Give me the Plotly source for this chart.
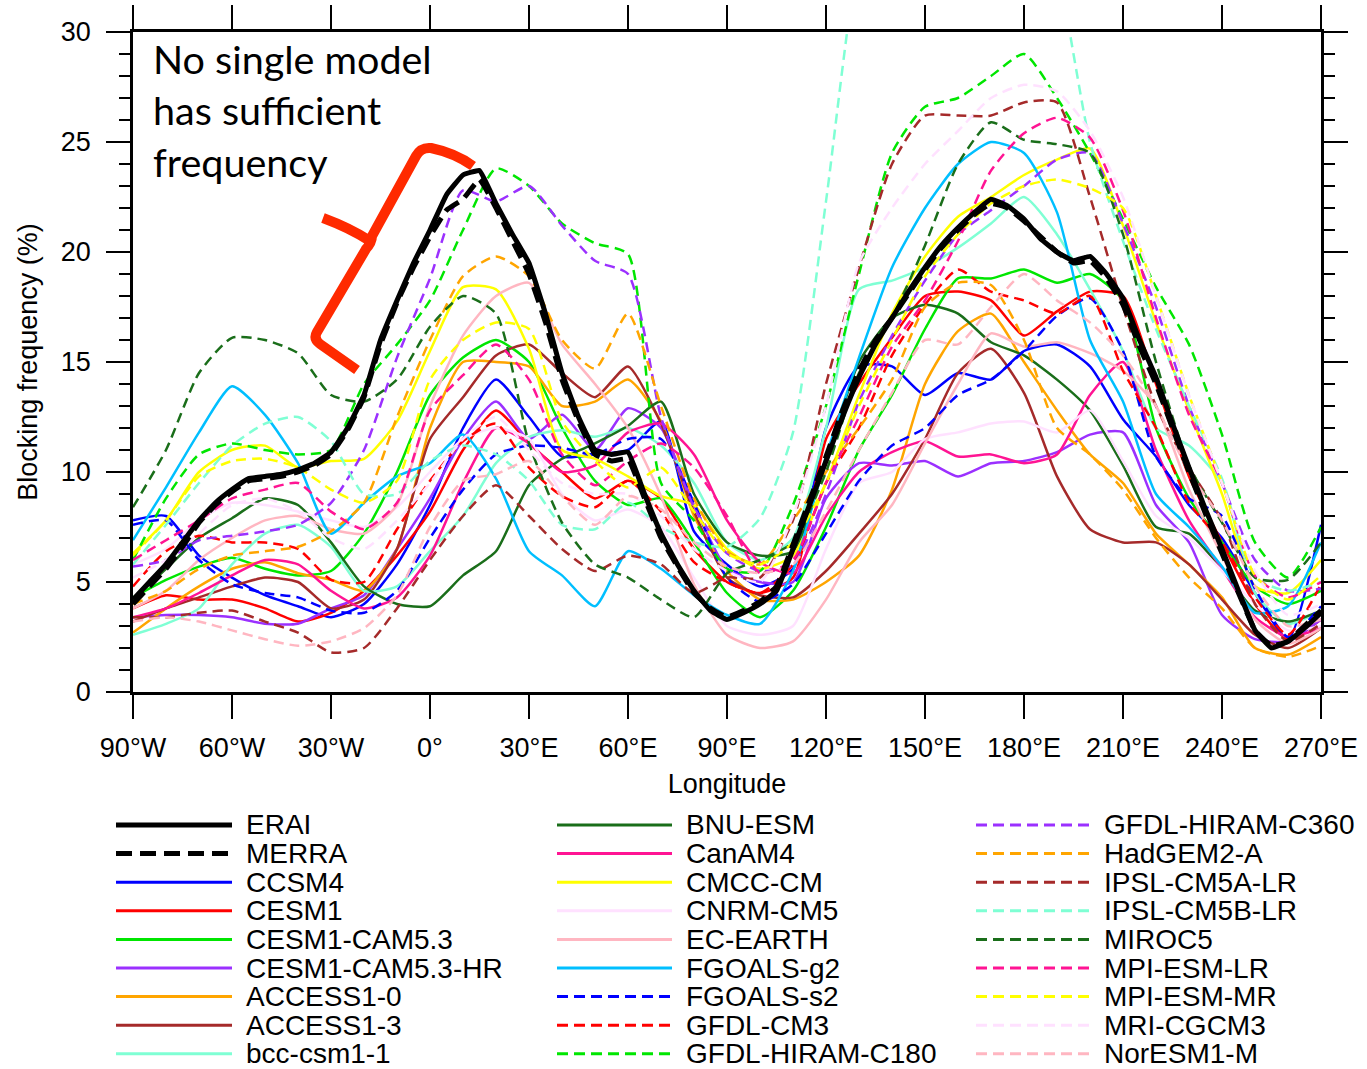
import plotly.graph_objects as go

# ---------------- data ----------------
LON10 = list(range(-90, 271, 10))
LON5 = list(range(-90, 271, 5))
LON_TICKS = list(range(-90, 271, 30))
LON_LABELS = ["90°W", "60°W", "30°W", "0°", "30°E", "60°E", "90°E", "120°E",
              "150°E", "180°E", "210°E", "240°E", "270°E"]

ERAI = [4.2, 5.0, 5.8, 6.8, 7.8, 8.6, 9.2, 9.7, 9.8, 9.9, 10.1, 10.4, 10.9, 12.0, 13.5,
        16.0, 17.8, 19.5, 21.0, 22.6, 23.5, 23.7, 22.2, 20.8, 19.5, 17.2, 14.5, 12.5,
        11.0, 10.8, 10.9, 9.0, 7.2, 5.8, 4.6, 3.7, 3.3, 3.6, 4.0, 4.6, 6.5, 8.5, 10.5,
        12.5, 14.3, 15.8, 17.0, 18.2, 19.3, 20.3, 21.1, 21.8, 22.4, 22.1, 21.5, 20.6,
        20.0, 19.6, 19.8, 19.0, 17.9, 16.0, 14.3, 12.2, 10.2, 8.3, 6.5, 4.6, 2.8, 2.0,
        2.3, 2.9, 3.6]
MERRA = [4.0, 4.8, 5.6, 6.6, 7.7, 8.5, 9.1, 9.6, 9.7, 9.8, 10.0, 10.3, 10.8, 11.9, 13.4,
         15.8, 17.7, 19.3, 20.7, 21.9, 22.4, 23.3, 22.0, 20.5, 19.0, 16.8, 14.2, 12.3,
         10.8, 10.5, 10.6, 8.8, 7.0, 5.7, 4.5, 3.8, 3.4, 3.7, 4.1, 4.8, 6.7, 8.7, 10.7,
         12.8, 14.6, 16.0, 17.0, 18.1, 19.2, 20.2, 21.0, 21.7, 22.2, 22.0, 21.4, 20.7,
         20.0, 19.5, 19.6, 18.8, 17.6, 15.7, 14.0, 12.0, 10.0, 8.1, 6.3, 4.5, 2.8, 2.1,
         2.3, 3.0, 3.7]

CCSM4 = [7.8, 8.0, 6.2, 5.2, 4.4, 3.9, 3.4, 4.0, 5.8, 8.5, 12.0, 14.2, 12.5, 10.7, 10.8,
         11.0, 12.3, 7.3, 5.8, 4.8, 5.6, 12.0, 14.8, 14.8, 13.5, 14.5, 14.2, 15.5, 15.8,
         14.8, 12.4, 10.7, 8.5, 7.0, 4.5, 2.4, 7.6]
CESM1 = [3.8, 4.4, 4.2, 4.2, 3.8, 3.2, 3.6, 4.6, 6.2, 8.2, 11.0, 12.8, 11.3, 10.0, 8.8,
         9.6, 8.8, 6.5, 5.0, 4.5, 5.2, 11.5, 14.0, 16.1, 18.0, 18.2, 17.8, 16.2, 17.3,
         18.2, 18.0, 14.0, 9.8, 6.8, 4.0, 2.4, 3.3]
CESM1_CAM53 = [4.3, 5.1, 5.7, 6.1, 5.6, 5.3, 5.5, 7.2, 10.0, 13.5, 15.2, 16.0, 15.0, 12.0,
               9.6, 8.5, 8.8, 6.8, 4.5, 3.4, 4.6, 7.5, 11.0, 13.5, 16.5, 18.8, 18.8, 19.2,
               18.6, 19.0, 17.8, 12.0, 8.8, 6.8, 4.8, 4.0, 4.6]
CESM1_CAM53_HR = [3.4, 3.5, 3.5, 3.4, 3.1, 3.1, 3.8, 4.4, 6.5, 8.8, 11.5, 13.2, 11.5, 12.6,
                  11.0, 12.9, 12.0, 8.5, 5.6, 5.0, 5.0, 8.8, 10.4, 10.3, 10.5, 9.8, 10.4,
                  10.5, 10.9, 11.7, 11.8, 8.5, 6.8, 3.5, 2.4, 2.3, 3.3]
ACCESS1_0 = [2.7, 3.8, 4.8, 5.6, 5.9, 5.4, 5.1, 4.6, 6.5, 12.0, 15.0, 15.0, 14.8, 13.0,
             13.2, 14.2, 12.3, 8.0, 5.5, 4.2, 4.2, 5.0, 6.2, 9.2, 14.0, 16.4, 17.2, 15.0,
             12.8, 10.8, 9.5, 7.2, 5.8, 4.3, 2.0, 1.7, 2.5]
ACCESS1_3 = [3.2, 3.8, 4.3, 4.8, 5.2, 5.0, 3.8, 4.2, 6.5, 11.5, 13.4, 15.3, 15.8, 14.5,
             13.4, 14.8, 12.2, 8.2, 5.2, 4.4, 4.3, 5.5, 7.2, 9.0, 11.5, 14.5, 15.6, 13.6,
             9.8, 7.4, 6.8, 6.8, 5.8, 4.2, 2.6, 2.0, 2.9]
BCC_CSM1_1 = [2.6, 3.1, 3.8, 5.8, 7.2, 7.6, 6.6, 4.6, 4.8, 6.4, 8.0, 10.4, 11.6, 11.9,
              11.6, 12.0, 11.2, 9.5, 6.8, 6.0, 7.0, 12.0, 18.3, 18.7, 19.3, 20.2, 21.3,
              22.5, 20.8, 18.3, 15.5, 12.0, 11.2, 9.5, 4.5, 3.1, 3.7]
BNU_ESM = [4.2, 5.6, 7.0, 7.9, 8.8, 8.5, 6.8, 4.8, 4.0, 3.9, 5.3, 6.4, 9.4, 10.6, 11.3,
           12.1, 13.2, 9.0, 6.8, 6.2, 6.4, 10.5, 15.0, 17.0, 17.6, 17.2, 15.9, 15.3, 14.2,
           12.8, 10.3, 7.5, 7.2, 5.6, 3.7, 3.2, 3.7]
CANAM4 = [3.4, 3.8, 4.5, 5.3, 6.0, 5.8, 4.6, 3.8, 4.3, 6.2, 9.5, 12.0, 11.3, 10.0, 10.3,
          11.8, 12.2, 10.8, 7.8, 5.9, 5.4, 8.0, 10.0, 10.9, 11.4, 10.7, 10.8, 10.4, 10.8,
          13.5, 15.0, 11.0, 7.8, 5.6, 3.4, 2.5, 2.9]
CMCC_CM = [6.3, 7.8, 10.0, 11.0, 11.2, 10.2, 10.5, 10.6, 12.3, 15.5, 18.4, 18.3, 15.6,
           11.0, 10.6, 9.8, 8.9, 8.5, 6.5, 5.6, 6.2, 9.5, 13.5, 17.2, 19.8, 21.6, 22.5,
           23.5, 24.2, 24.7, 21.2, 16.8, 12.8, 9.0, 4.8, 4.5, 6.0]
CNRM_CM5 = [5.8, 6.5, 7.8, 8.6, 8.5, 8.2, 7.8, 7.5, 8.4, 10.0, 11.5, 12.0, 11.5, 9.0, 7.8,
            8.3, 7.5, 5.2, 3.0, 2.6, 3.0, 6.5, 9.5, 10.0, 11.5, 11.8, 12.2, 12.3, 11.8,
            12.8, 10.5, 8.0, 7.0, 5.5, 4.0, 2.8, 3.0]
EC_EARTH = [3.8, 4.6, 6.0, 7.0, 7.8, 8.0, 7.4, 7.2, 8.5, 13.0, 16.2, 18.0, 18.6, 15.8,
            14.0, 12.0, 8.9, 4.9, 2.6, 2.0, 2.3, 4.2, 6.8, 8.5, 11.3, 14.0, 16.3, 15.7,
            15.9, 15.4, 14.6, 13.0, 9.2, 6.2, 3.3, 2.2, 2.9]
FGOALS_G2 = [6.9, 9.3, 11.8, 13.9, 12.6, 10.4, 7.2, 8.6, 9.8, 10.4, 11.7, 9.7, 6.4, 5.3,
             3.9, 6.4, 5.6, 4.4, 3.5, 3.1, 5.5, 10.7, 15.2, 19.3, 22.0, 24.0, 25.0, 24.5,
             21.8, 16.0, 13.2, 9.0, 7.5, 5.7, 3.6, 3.9, 6.8]
FGOALS_S2 = [7.6, 7.8, 6.0, 4.9, 4.5, 4.3, 3.7, 3.6, 4.6, 7.0, 9.2, 10.8, 11.2, 11.1, 10.8,
             11.5, 11.5, 8.6, 5.2, 4.1, 4.9, 7.2, 9.6, 11.2, 12.0, 13.5, 14.2, 15.5, 17.1,
             17.9, 15.5, 10.7, 8.8, 8.0, 4.7, 2.5, 3.9]
GFDL_CM3 = [4.8, 6.4, 7.1, 6.8, 6.8, 6.5, 5.1, 5.0, 7.4, 9.6, 11.4, 12.2, 10.2, 8.9, 8.4,
            9.6, 8.2, 5.9, 5.0, 4.5, 5.8, 9.5, 12.0, 15.3, 17.6, 19.2, 18.2, 17.8, 17.2,
            18.0, 14.6, 12.0, 8.6, 6.8, 4.3, 2.6, 4.9]
GFDL_HIRAM_C180 = [6.0, 8.8, 10.8, 11.3, 11.0, 10.8, 11.0, 14.0, 15.8, 17.8, 21.0, 23.8,
                   23.0, 21.3, 20.4, 19.9, 9.5, 7.8, 5.6, 5.5, 8.5, 13.0, 19.0, 24.5, 26.6,
                   27.0, 28.0, 29.0, 27.0, 24.5, 21.5, 18.4, 15.8, 11.7, 6.8, 5.2, 7.5]
GFDL_HIRAM_C360 = [5.7, 6.0, 6.9, 7.1, 7.3, 7.6, 8.6, 11.0, 15.2, 18.8, 22.8, 22.3, 23.0,
                   21.2, 19.6, 19.0, 12.5, 8.4, 6.3, 5.5, 5.8, 9.0, 13.2, 16.2, 18.7, 20.8,
                   21.9, 23.0, 24.2, 24.5, 21.3, 17.5, 13.0, 9.5, 6.0, 4.6, 4.7]
HADGEM2_A = [4.0, 4.6, 5.6, 6.2, 6.4, 6.6, 7.3, 8.6, 12.5, 16.0, 18.9, 19.8, 18.9, 16.0,
             14.7, 17.2, 13.0, 8.8, 6.4, 5.8, 7.8, 10.0, 12.0, 14.2, 17.5, 18.6, 18.5,
             16.0, 12.0, 10.8, 9.2, 7.0, 5.2, 3.8, 2.0, 1.6, 2.1]
IPSL_CM5A_LR = [3.4, 3.4, 3.6, 3.7, 3.2, 2.7, 1.8, 2.0, 3.8, 6.0, 8.0, 9.4, 8.0, 6.5, 5.5,
                6.2, 5.8, 4.5, 5.2, 5.2, 7.8, 14.0, 19.3, 24.0, 26.2, 26.2, 26.2, 26.8,
                26.8, 22.5, 17.5, 13.0, 10.2, 7.8, 4.0, 2.3, 3.1]
IPSL_CM5B_LR = [5.8, 7.6, 9.5, 11.2, 12.2, 12.5, 11.4, 9.0, 9.0, 10.5, 11.2, 10.8, 9.6,
                7.6, 7.4, 8.6, 7.5, 6.8, 6.6, 7.9, 11.8, 22.3, 33.5, 38.0, 40.0, 41.0,
                40.5, 37.5, 33.0, 25.0, 20.5, 16.5, 13.0, 9.7, 5.2, 4.6, 5.0]
MIROC5 = [8.4, 11.0, 14.5, 16.1, 16.0, 15.4, 13.5, 13.2, 14.2, 16.6, 18.0, 17.2, 11.3, 7.7,
          5.8, 5.2, 4.2, 3.4, 5.4, 6.0, 6.8, 10.0, 14.5, 17.0, 20.3, 24.0, 25.9, 25.1,
          24.9, 24.5, 20.8, 15.0, 10.3, 7.7, 5.2, 5.1, 6.8]
MPI_ESM_LR = [6.0, 6.9, 7.8, 8.8, 9.2, 9.5, 8.2, 7.4, 8.6, 12.8, 14.4, 15.8, 14.2, 10.8,
              9.4, 10.5, 11.3, 10.2, 8.0, 5.4, 6.0, 9.5, 12.5, 15.7, 17.8, 20.5, 23.7,
              25.4, 26.1, 25.2, 21.9, 17.0, 12.6, 9.5, 5.3, 4.3, 5.0]
MPI_ESM_MR = [6.2, 7.8, 9.8, 10.5, 10.6, 10.2, 9.2, 8.6, 9.6, 14.2, 16.0, 16.8, 16.5, 12.3,
              10.5, 9.3, 10.2, 8.2, 6.3, 5.8, 6.8, 9.5, 13.0, 16.0, 18.9, 20.8, 22.2, 23.0,
              23.3, 22.9, 22.0, 18.0, 13.5, 9.5, 5.3, 4.2, 5.3]
MRI_CGCM3 = [5.2, 6.0, 7.2, 8.5, 8.8, 8.2, 7.0, 6.5, 7.8, 9.5, 11.5, 12.5, 11.0, 9.5, 9.0,
             9.0, 8.0, 6.5, 5.5, 5.0, 8.0, 13.0, 19.5, 22.0, 24.0, 25.5, 27.0, 27.6, 27.3,
             25.5, 22.5, 18.0, 13.5, 9.5, 5.5, 3.5, 4.0]
NORESM1_M = [3.2, 3.4, 3.2, 2.8, 2.4, 2.1, 2.3, 2.9, 4.4, 7.5, 9.6, 9.9, 10.5, 8.9, 7.6,
             8.9, 8.3, 6.8, 5.7, 5.4, 5.8, 8.2, 11.0, 13.6, 16.0, 15.8, 17.5, 19.0, 17.8,
             16.8, 15.3, 13.0, 10.0, 7.8, 4.8, 3.0, 3.3]

NAMES = ["ERAI", "MERRA", "CCSM4", "CESM1", "CESM1-CAM5.3", "CESM1-CAM5.3-HR",
         "ACCESS1-0", "ACCESS1-3", "bcc-csm1-1",
         "BNU-ESM", "CanAM4", "CMCC-CM", "CNRM-CM5", "EC-EARTH", "FGOALS-g2",
         "FGOALS-s2", "GFDL-CM3", "GFDL-HIRAM-C180",
         "GFDL-HIRAM-C360", "HadGEM2-A", "IPSL-CM5A-LR", "IPSL-CM5B-LR", "MIROC5",
         "MPI-ESM-LR", "MPI-ESM-MR", "MRI-CGCM3", "NorESM1-M"]
VALUES = [ERAI, MERRA, CCSM4, CESM1, CESM1_CAM53, CESM1_CAM53_HR, ACCESS1_0, ACCESS1_3,
          BCC_CSM1_1, BNU_ESM, CANAM4, CMCC_CM, CNRM_CM5, EC_EARTH, FGOALS_G2, FGOALS_S2,
          GFDL_CM3, GFDL_HIRAM_C180, GFDL_HIRAM_C360, HADGEM2_A, IPSL_CM5A_LR,
          IPSL_CM5B_LR, MIROC5, MPI_ESM_LR, MPI_ESM_MR, MRI_CGCM3, NORESM1_M]

ANNOTATION_TEXT = "No single model<br>has sufficient<br>frequency"

# ---------------- styles ----------------
COLORS = ["#000000", "#000000", "#0000FF", "#FF0000", "#00E600", "#9B30FF",
          "#FFA500", "#A52A2A", "#7FFFD4",
          "#1A6E1A", "#FF1493", "#FFFF00", "#FFE1FF", "#FFB6C1", "#00BFFF",
          "#0000FF", "#FF0000", "#00E600",
          "#9B30FF", "#FFA500", "#A52A2A", "#7FFFD4", "#1A6E1A", "#FF1493",
          "#FFFF00", "#FFE1FF", "#FFB6C1"]
DASHED = [False, True] + [False] * 13 + [True] * 12
WIDTHS = [5, 5] + [2.5] * 25
MODEL_DASH = "10px,6px"
REAN_DASH = "16px,8px"
LEG_DASH_MODEL = "11px,6px"

W, H = 1367, 1069
ML, MR, MT, MB = 133, 46, 32, 377
PW, PH = W - ML - MR, H - MT - MB
X0, X1, Y0, Y1 = -90, 270, 0, 30


def px_x(p):
    return (p - ML) / PW


def px_y(p):
    return (H - MB - p) / PH


def dx(p):
    return X0 + (p - ML) / PW * (X1 - X0)


def dy(p):
    return Y0 + (H - MB - p) / PH * (Y1 - Y0)


fig = go.Figure()

order = list(range(2, len(NAMES))) + [1, 0]
for i in order:
    xs = LON5 if i < 2 else LON10
    dash = "solid"
    if DASHED[i]:
        dash = REAN_DASH if i < 2 else MODEL_DASH
    fig.add_trace(go.Scatter(
        x=xs, y=VALUES[i], mode="lines", name=NAMES[i], showlegend=False,
        line=dict(color=COLORS[i], width=WIDTHS[i], dash=dash,
                  shape="spline", smoothing=0.6 if i >= 2 else 0.3),
        hoverinfo="skip"))

# ---------------- manual legend (3 columns, 9 rows) ----------------
COL_LINE = [(116, 232), (557, 672), (976, 1091)]
COL_TEXT = [246, 686, 1104]
ROW0, ROWSTEP = 825, 28.6

shapes = []
annotations = []
for k, name in enumerate(NAMES):
    c, r = divmod(k, 9)
    yy = px_y(ROW0 + r * ROWSTEP)
    dash = "solid"
    if DASHED[k]:
        dash = REAN_DASH if k < 2 else LEG_DASH_MODEL
    shapes.append(dict(type="line", xref="paper", yref="paper",
                       x0=px_x(COL_LINE[c][0]), x1=px_x(COL_LINE[c][1]), y0=yy, y1=yy,
                       line=dict(color=COLORS[k], width=WIDTHS[k] if k < 2 else 3, dash=dash)))
    annotations.append(dict(xref="paper", yref="paper", x=px_x(COL_TEXT[c]), y=yy,
                            text=name, showarrow=False, xanchor="left", yanchor="middle",
                            borderpad=0, borderwidth=0,
                            font=dict(family="Liberation Sans, Arial", size=28, color="black")))


# red curly bracket (decoration), given in pixel space, mapped to data space
def P(px, py):
    return f"{dx(px):.3f},{dy(py):.3f}"


bracket = (f"M {P(357, 370)} L {P(320, 344)} Q {P(313, 339)} {P(317, 332)} L {P(366, 249)} "
           f"M {P(323, 218)} Q {P(350, 228)} {P(370, 241)} "
           f"M {P(365, 250)} Q {P(372, 243)} {P(372, 236)} L {P(416, 156)} "
           f"Q {P(421, 147)} {P(431, 148)} Q {P(455, 153)} {P(473, 166)}")
shapes.append(dict(type="path", xref="x", yref="y", path=bracket,
                   line=dict(color="#FF2A00", width=10)))

annotations.append(dict(xref="paper", yref="paper", x=px_x(152), y=px_y(34),
                        text=ANNOTATION_TEXT, borderpad=0,
                        showarrow=False, xanchor="left", yanchor="top", align="left",
                        font=dict(family="Lato, Open Sans", size=39.5, color="black")))

AX_FONT = dict(family="Liberation Sans, Arial", size=27, color="black")

fig.update_layout(
    width=W, height=H, autosize=False,
    margin=dict(l=ML, r=MR, t=MT, b=MB, pad=0),
    paper_bgcolor="white", plot_bgcolor="white",
    showlegend=False, hovermode=False,
    shapes=shapes, annotations=annotations,
    xaxis=dict(range=[X0, X1], tickvals=LON_TICKS, ticktext=LON_LABELS, automargin=False,
               showgrid=False, zeroline=False, showline=True, linecolor="black",
               linewidth=2.5, mirror="ticks", ticks="outside", ticklen=24, tickwidth=2,
               tickcolor="black", tickfont=AX_FONT, ticklabelstandoff=6,
               title=dict(text="Longitude", font=AX_FONT, standoff=12)),
    yaxis=dict(range=[Y0, Y1], tickvals=[0, 5, 10, 15, 20, 25, 30], automargin=False,
               showgrid=False, zeroline=False, showline=True, linecolor="black",
               linewidth=2.5, mirror="ticks", ticks="outside", ticklen=24, tickwidth=2,
               tickcolor="black", tickfont=AX_FONT, ticklabelstandoff=10,
               minor=dict(dtick=1, ticks="outside", ticklen=11, tickwidth=2,
                          tickcolor="black", showgrid=False),
               title=dict(text="Blocking frequency (%)", font=AX_FONT, standoff=16)),
)

fig.write_html("out.html")
